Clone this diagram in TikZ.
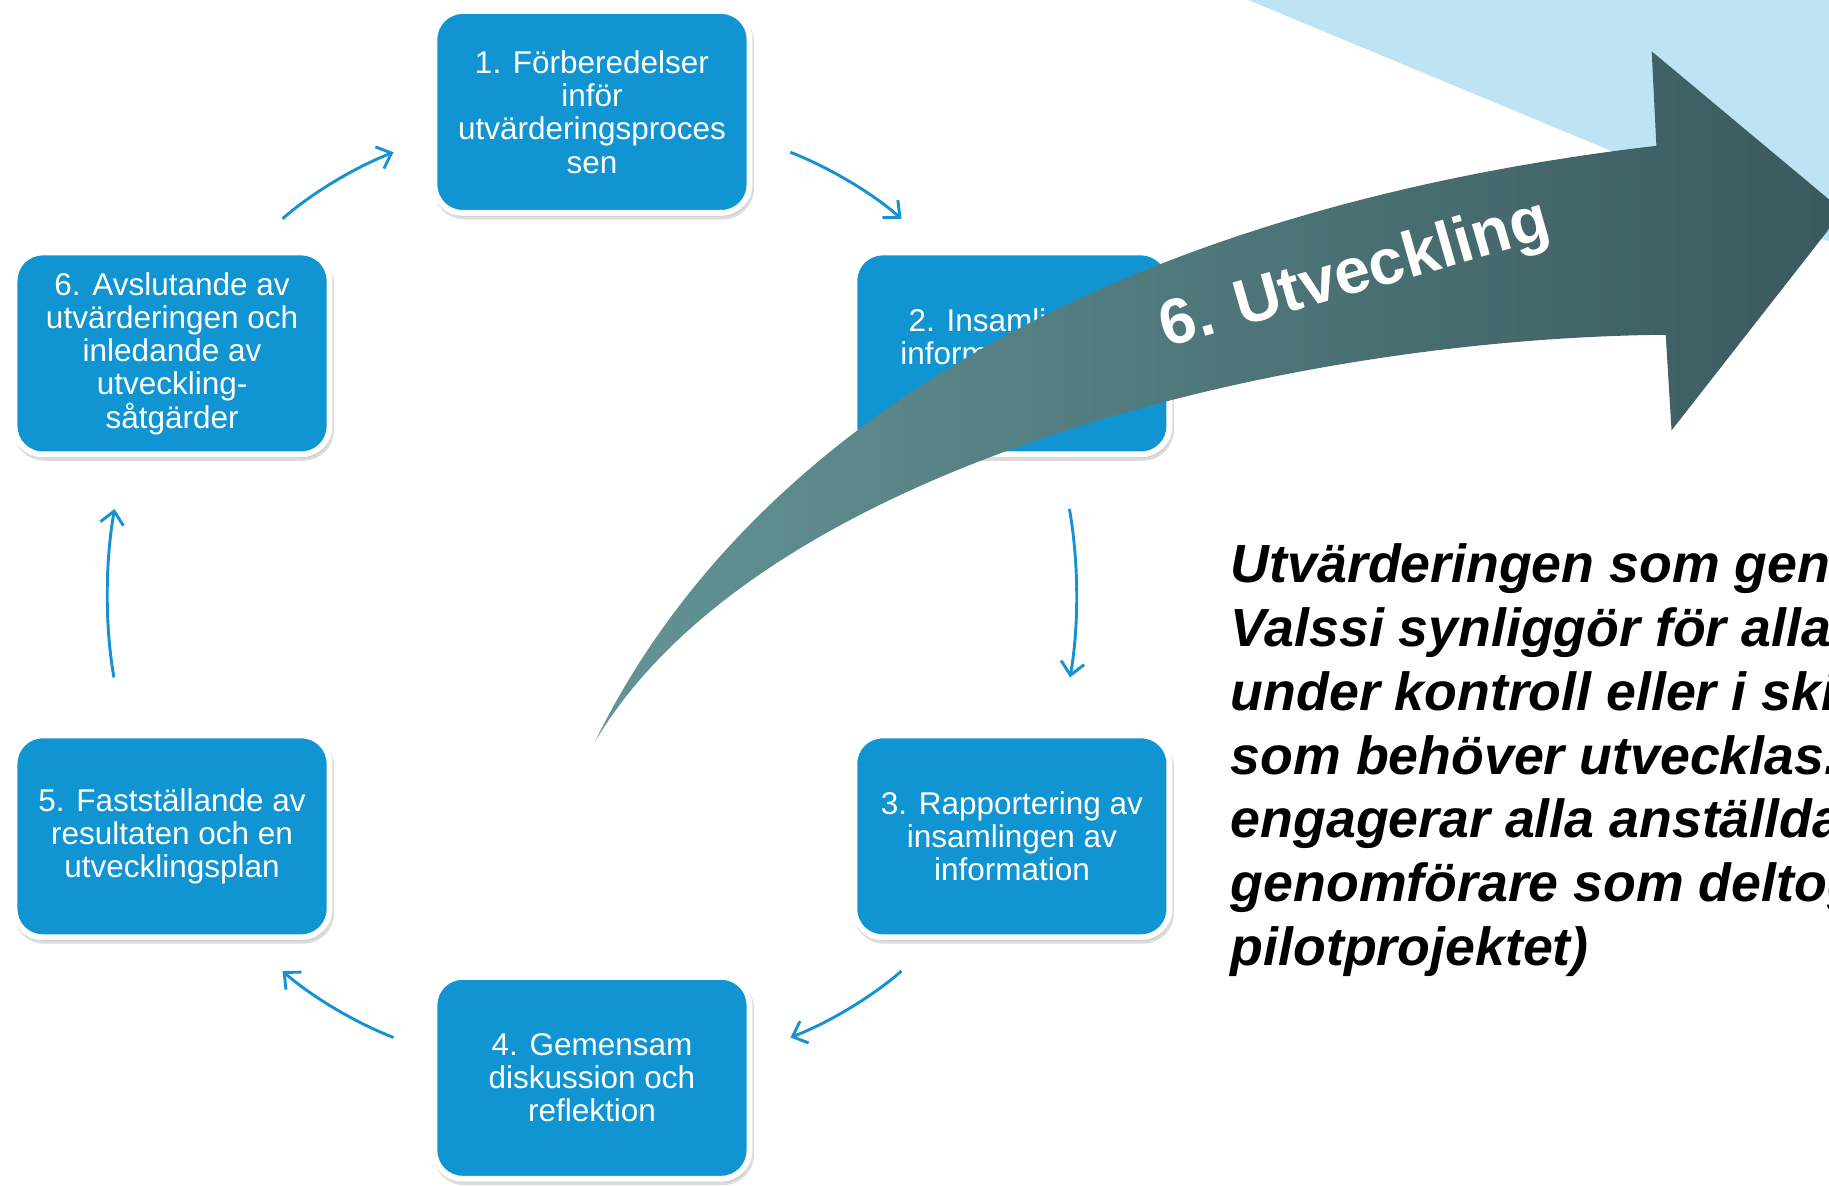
\documentclass[tikz,border=0pt]{standalone}
\usepackage{fontspec}
\setmainfont{Liberation Sans}
\usetikzlibrary{arrows.meta,shadows}
\definecolor{stepblue}{RGB}{16,148,210}
\definecolor{lineblue}{RGB}{22,146,212}
\definecolor{skyblue}{RGB}{190,227,242}
\definecolor{arrowlight}{RGB}{99,148,150}
\definecolor{arrowdark}{RGB}{58,89,94}
\tikzset{
>={Straight Barb[length=11pt,width=20pt]},
stepbox/.style={rectangle, rounded corners=24pt, fill=stepblue, draw=white,
  line width=5pt, minimum width=270pt, minimum height=173pt, text=white,
  align=center, font=\fontsize{27}{28.5}\selectfont,
  drop shadow={shadow xshift=1.5pt, shadow yshift=-3pt, opacity=.3,
    fill=black!45, draw=black!45, line width=5pt}},
cycarrow/.style={->, draw=lineblue, line width=2.5pt},
}

\begin{document}
\begin{tikzpicture}[x=1pt,y=-1pt]
    \useasboundingbox (0,0) rectangle (1568,1016);
    \clip (0,0) rectangle (1568,1016);
    % light blue corner
    \fill[skyblue] (1070,0) -- (1568,0) -- (1568,207) -- cycle;

    \node[stepbox] (b1) at (507.5,96) {1. Förberedelser\\inför\\utvärderingsproces\\sen};
    \node[stepbox,align=left] (b2) at (867.5,303) {\hspace*{7pt}2. Insamling av\\information\\\mbox{}};
    \node[stepbox] (b3) at (867.5,717) {3. Rapportering av\\insamlingen av\\information};
    \node[stepbox] (b4) at (507.5,924) {4. Gemensam\\diskussion och\\reflektion};
    \node[stepbox] (b5) at (147.5,717) {5. Fastställande av\\resultaten och en\\utvecklingsplan};
    \node[stepbox] (b6) at (147.5,303) {6. Avslutande av\\utvärderingen och\\inledande av\\utveckling-\\såtgärder};

    \draw[cycarrow,shorten <=40pt,shorten >=35pt] (b6.54) to[bend left=10] (b1.189);
    \draw[cycarrow,shorten <=35pt,shorten >=40pt] (b1.-9) to[bend left=10] (b2.126);
    \draw[cycarrow,shorten <=45pt,shorten >=48pt] (b2.-65) to[bend left=10] (b3.65);
    \draw[cycarrow,shorten <=40pt,shorten >=35pt] (b3.-126) to[bend left=10] (b4.9);
    \draw[cycarrow,shorten <=35pt,shorten >=40pt] (b4.171) to[bend left=10] (b5.-54);
    \draw[cycarrow,shorten <=48pt,shorten >=45pt] (b5.115) to[bend left=10] (b6.-115);

    % big curved arrow
    \shade[left color=arrowlight, right color=arrowdark]
      (510,636) .. controls (640,370) and (950,180) .. (1420,125)
      -- (1416,44) -- (1580,181) -- (1433,369) -- (1428,287)
      .. controls (1100,290) and (650,400) .. (510,636) -- cycle;
    \node[rotate=16, text=white, font=\fontsize{55}{60}\bfseries\selectfont] (devlabel) at (1162,237) {6. Utveckling};

    \node[anchor=north west, inner sep=0pt, align=left,
      font=\fontsize{46}{54.7}\bfseries\itshape\selectfont] (note) at (1055,466)
      {Utvärderingen som gen\\Valssi synliggör för alla\\under kontroll eller i ski\\som behöver utvecklas.\\engagerar alla anställda\\genomförare som deltog\\pilotprojektet)};
\end{tikzpicture}
\end{document}
